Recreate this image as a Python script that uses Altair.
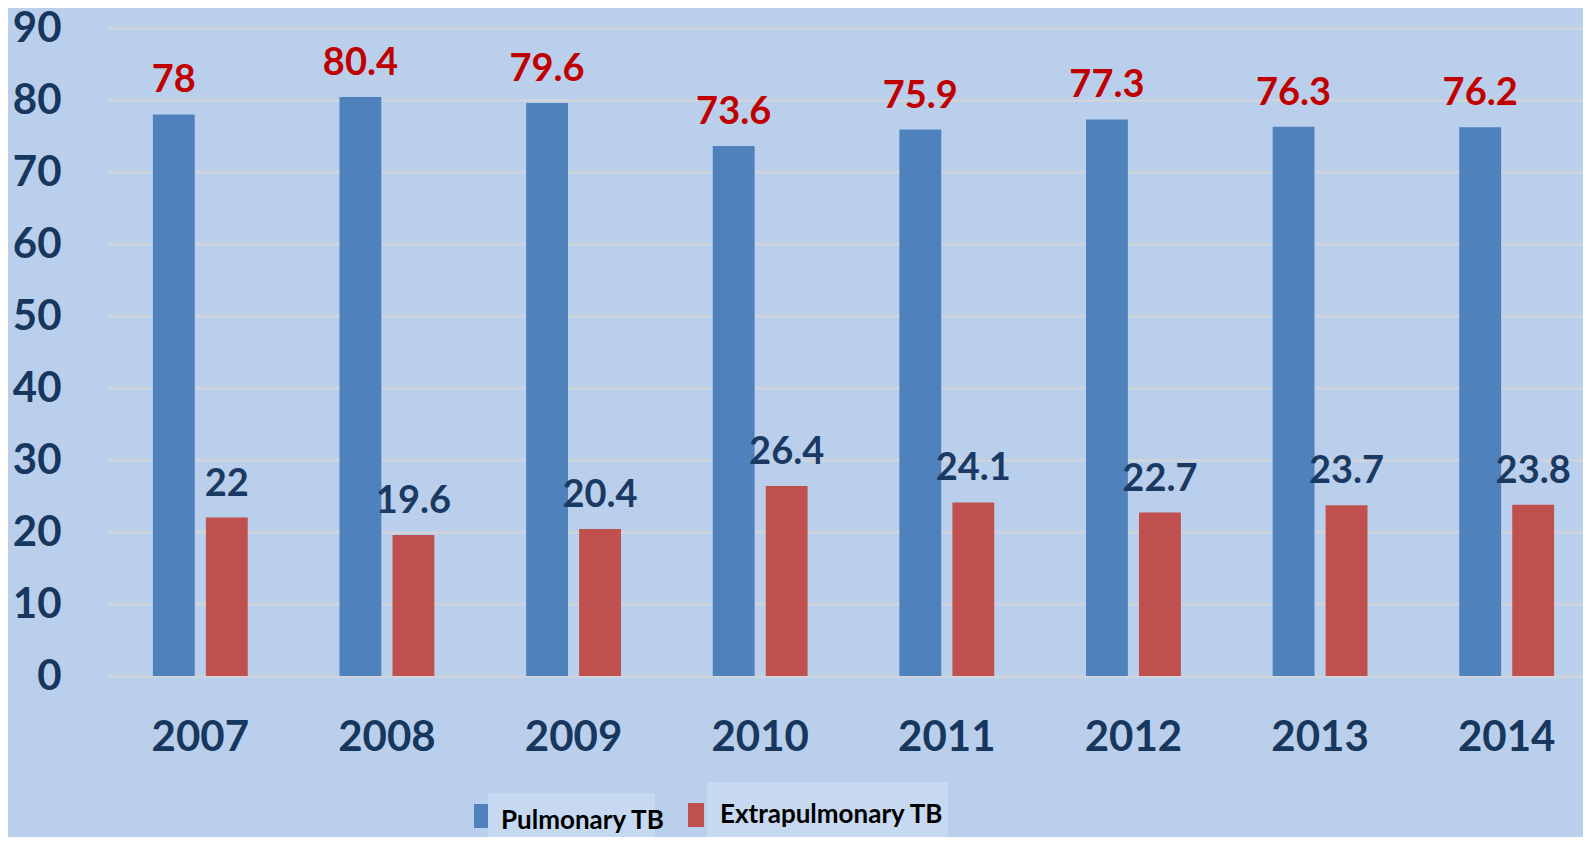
import altair as alt
import pandas as pd

years = ["2007", "2008", "2009", "2010", "2011", "2012", "2013", "2014"]
series = ["Pulmonary TB", "Extrapulmonary TB"]
pulmonary = [78, 80.4, 79.6, 73.6, 75.9, 77.3, 76.3, 76.2]
extrapulmonary = [22, 19.6, 20.4, 26.4, 24.1, 22.7, 23.7, 23.8]
y_ticks = [0, 10, 20, 30, 40, 50, 60, 70, 80, 90]

bar_colors = ["#4F81BD", "#C0504D"]
label_colors = ["#C00000", "#1B3A63"]
BG = "#B9CFEC"
NAVY = "#17375E"

rows = []
for i, y in enumerate(years):
    for s, vals in zip(series, [pulmonary, extrapulmonary]):
        v = vals[i]
        rows.append({"year": y, "series": s, "value": v, "label": f"{v:g}"})
df = pd.DataFrame(rows)

W, H = 1476, 648

x_enc = alt.X(
    "year:N",
    sort=years,
    scale=alt.Scale(range=[0, 1493], paddingInner=0, paddingOuter=0),
    axis=alt.Axis(
        title=None, labelAngle=0, domain=False, ticks=False, grid=False,
        labelFont="Lato", labelFontSize=42, labelFontWeight="bold",
        labelColor=NAVY, labelPadding=61, labelBaseline="middle",
    ),
)
xo_enc = alt.XOffset(
    "series:N", sort=series,
    scale=alt.Scale(domain=series, paddingInner=0.21, paddingOuter=0.866),
)
y_enc = alt.Y(
    "value:Q",
    scale=alt.Scale(domain=[0, 90], nice=False, zero=True),
    axis=alt.Axis(
        title=None, values=y_ticks, domain=False, ticks=False,
        grid=True, gridColor="#D6D6D6", gridWidth=2,
        labelFont="Lato", labelFontSize=42, labelFontWeight="bold",
        labelColor=NAVY, labelPadding=46,
    ),
)

bars = alt.Chart(df).mark_bar().encode(
    x=x_enc, xOffset=xo_enc, y=y_enc,
    color=alt.Color("series:N", scale=alt.Scale(domain=series, range=bar_colors), legend=None),
)

labels = alt.Chart(df).mark_text(
    baseline="alphabetic", dy=-22, font="Lato", fontSize=38, fontWeight="bold"
).encode(
    x=x_enc, xOffset=xo_enc, y=y_enc,
    text="label:N",
    color=alt.Color("series:N", scale=alt.Scale(domain=series, range=label_colors), legend=None),
)

def one(name):
    return alt.Chart(pd.DataFrame({"label": [name]}))

# custom legend (positions relative to plot area)
box1 = one(series[0]).mark_rect(color="#C6D9F1").encode(
    x=alt.value(381), x2=alt.value(548), y=alt.value(765), y2=alt.value(820))
box2 = one(series[1]).mark_rect(color="#C6D9F1").encode(
    x=alt.value(600), x2=alt.value(841), y=alt.value(754), y2=alt.value(820))
sq1 = one(series[0]).mark_rect(color=bar_colors[0]).encode(
    x=alt.value(367), x2=alt.value(381), y=alt.value(776), y2=alt.value(800))
sq2 = one(series[1]).mark_rect(color=bar_colors[1]).encode(
    x=alt.value(581), x2=alt.value(597), y=alt.value(775), y2=alt.value(799))
t1 = one(series[0]).mark_text(
    align="left", baseline="alphabetic", font="Lato",
    fontSize=26, fontWeight="bold", color="#000000",
).encode(x=alt.value(394), y=alt.value(801), text="label:N")
t2 = one(series[1]).mark_text(
    align="left", baseline="alphabetic", font="Lato",
    fontSize=26, fontWeight="bold", color="#000000",
).encode(x=alt.value(613), y=alt.value(795), text="label:N")

chart = alt.layer(bars, labels, box1, box2, sq1, sq2, t1, t2).resolve_scale(
    color="independent"
).properties(
    width=W, height=H,
    background=BG,
    padding={"left": 99, "top": 20, "right": 0, "bottom": 161},
    autosize=alt.AutoSizeParams(type="none"),
).configure_view(stroke=None)

chart.save("out.html", embed_options={"renderer": "svg", "actions": False})
